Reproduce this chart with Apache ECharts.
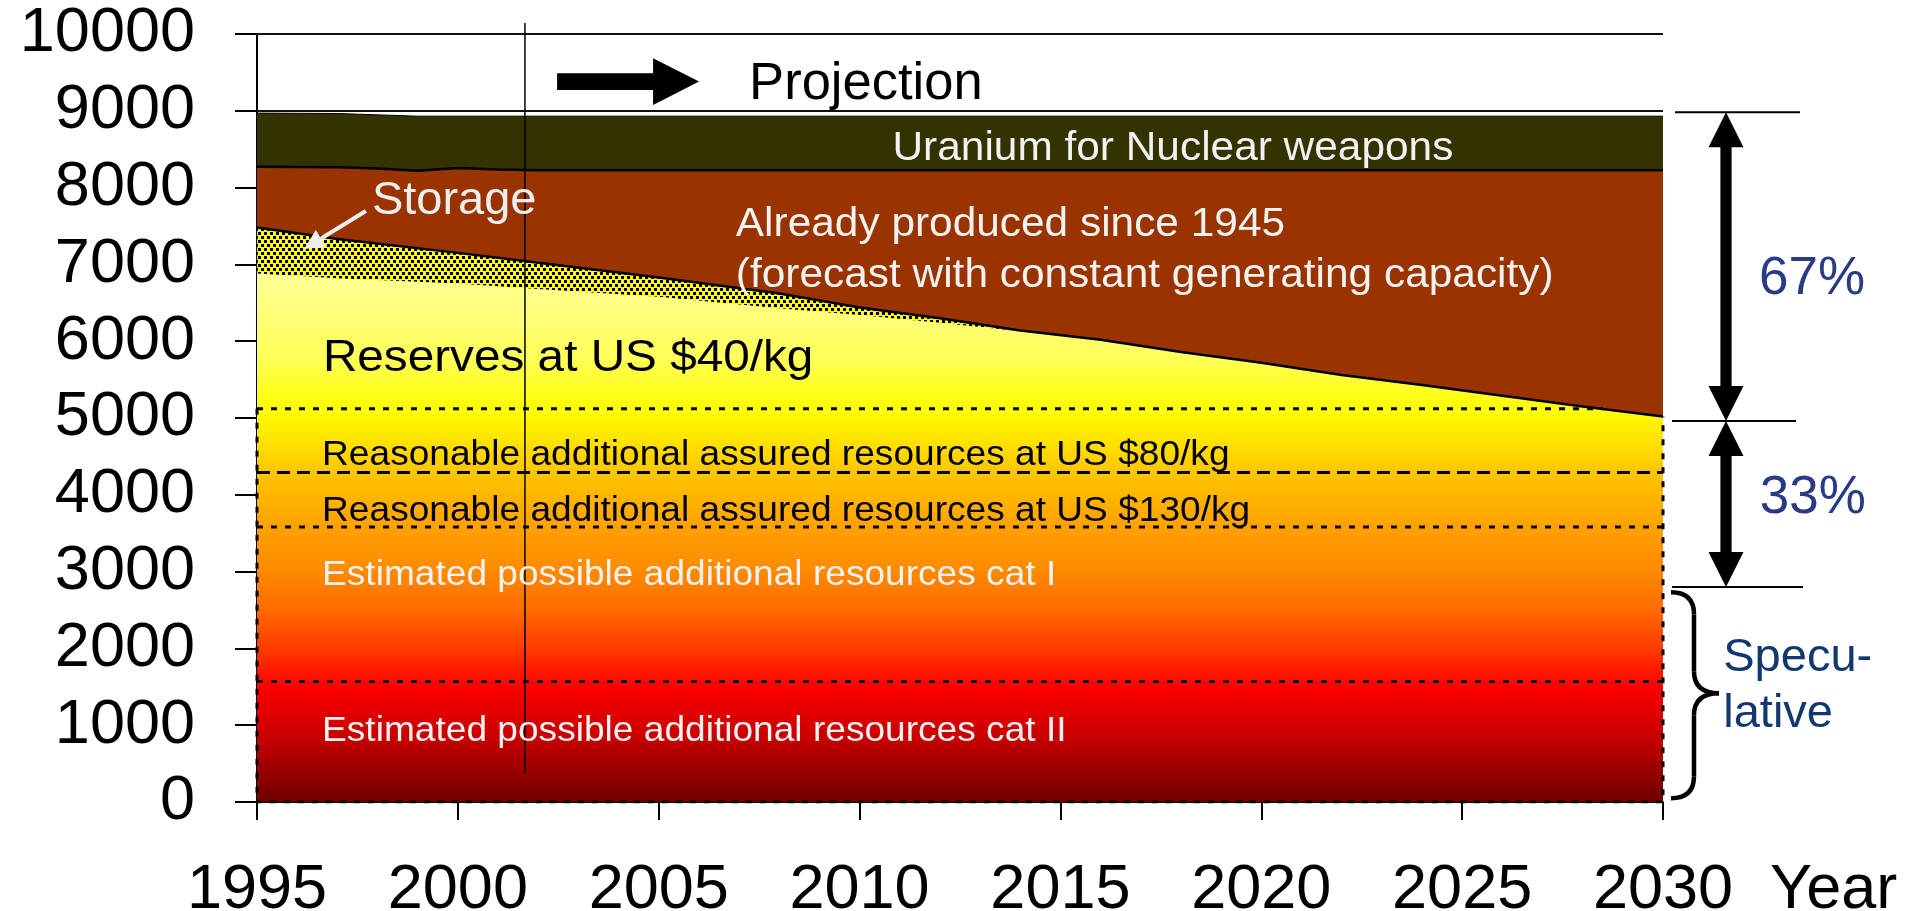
<!DOCTYPE html>
<html>
<head>
<meta charset="utf-8">
<title>Uranium resources</title>
<script src="https://cdn.jsdelivr.net/npm/echarts@6/dist/echarts.min.js"></script>
<style>
  html, body { margin: 0; padding: 0; background: #fff; }
  #chart { width: 1907px; height: 911px; }
</style>
</head>
<body>
<div id="chart"></div>
<script>
const FONT = '"Liberation Sans", Arial, Helvetica, sans-serif'

// band boundaries as [year, value]
const weaponsTop = [[1995, 8970], [1997, 8965], [1999, 8930], [2030, 8930]]
const producedTop = [[1995, 8270], [1997, 8265], [1998, 8250], [1999, 8220], [2000, 8255],
  [2001, 8235], [2002, 8225], [2030, 8225]]
const producedBottom = [[1995, 7480], [1997, 7330], [2000, 7150], [2002, 7020], [2005, 6830],
  [2008, 6620], [2010, 6440], [2012, 6300], [2014, 6140], [2016, 6020], [2018, 5860],
  [2020, 5720], [2022, 5560], [2024, 5430], [2026, 5290], [2028, 5150], [2030, 5020]]
const reservesTop = [[1995, 6880], [1997, 6820], [2000, 6750], [2002, 6680], [2005, 6580],
  [2008, 6430], [2010, 6340], [2012, 6240], [2014, 6130], [2016, 6015], [2018, 5860],
  [2020, 5720], [2022, 5560], [2024, 5430], [2026, 5290], [2028, 5150], [2030, 5020]]

// flat tops of the resource classes: $40 reserves floor, $80, $130, cat I / cat II split
const resourceLevels = [5120, 4290, 3580, 1570]
const resourceLineTypes = [[6, 8], [13, 7], [6, 8], [6, 8]]
const reservesLineEnd = 2028.5
const resourceOutline = [[1995, 5120], [1995, 0], [2030, 0], [2030, 5020]]

const projectionStart = 2001.67
const projectionSpan = [10143, 375]

// right hand brackets
const shareLevels = [8980, 4960, 2800]
const speculativeRange = [2730, 1416, 50]

// colour ramp of the resource bands (value -> colour)
const rampStops = [[0, '#6e0000'], [800, '#c40000'], [1500, '#ff0000'], [2000, '#ff3c00'],
  [2500, '#ff6a00'], [3000, '#ff8a00'], [3600, '#ffa200'], [4300, '#ffc600'],
  [5100, '#ffff00'], [5800, '#ffff5a'], [6900, '#ffff99']]

const chart = echarts.init(document.getElementById('chart'))

function dots() {
  const c = document.createElement('canvas')
  c.width = 6
  c.height = 8
  const ctx = c.getContext('2d')
  ctx.fillStyle = '#ffff00'
  ctx.fillRect(0, 0, 6, 8)
  ctx.fillStyle = '#000'
  ctx.fillRect(0, 0, 3, 3)
  ctx.fillRect(3, 4, 3, 3)
  return c
}

function area(name, data, fill, lineWidth) {
  return {
    name, type: 'line', data, symbol: 'none', silent: true,
    lineStyle: { color: '#000', width: lineWidth },
    areaStyle: { color: fill, opacity: 1 }
  }
}

function line(name, data, type, width) {
  return {
    name, type: 'line', data, symbol: 'none', silent: true,
    lineStyle: { color: '#000', width, type }
  }
}

const series = [
  area('weapons', weaponsTop, '#333300', 1),
  area('produced', producedTop, '#993300', 2.5),
  area('storage', producedBottom, { image: dots(), repeat: 'repeat' }, 0),
  area('reserves', reservesTop, '#ffff00', 0),
  line('producedEdge', producedBottom, 'solid', 2.5)
]
resourceLevels.forEach((v, i) => {
  const end = i === 0 ? reservesLineEnd : 2030
  series.push(line('level' + v, [[1995, v], [end, v]], resourceLineTypes[i], 3))
})
series.push(line('outline', resourceOutline, [6, 8], 3))
series.push(Object.assign(line('projection', [[projectionStart, projectionSpan[0]], [projectionStart, projectionSpan[1]]], 'solid', 1.5), { clip: false }))

chart.setOption({
  animation: false,
  grid: { left: 257, right: 244, top: 34, bottom: 109, outerBoundsMode: 'none', containLabel: false },
  xAxis: {
    type: 'value', min: 1995, max: 2030, interval: 5,
    name: 'Year', nameLocation: 'end', nameGap: 107,
    nameTextStyle: { fontSize: 63, fontFamily: FONT, color: '#000', verticalAlign: 'top', padding: [57, 0, 0, 0] },
    axisLine: { lineStyle: { color: '#000', width: 2 } },
    axisTick: { length: 18, lineStyle: { color: '#000', width: 2 } },
    axisLabel: { fontSize: 63, fontFamily: FONT, color: '#000', margin: 57, formatter: v => String(v) },
    splitLine: { show: false }
  },
  yAxis: {
    type: 'value', min: 0, max: 10000, interval: 1000,
    axisLine: { show: true, lineStyle: { color: '#000', width: 2 } },
    axisTick: { show: true, length: 22, lineStyle: { color: '#000', width: 2 } },
    axisLabel: { fontSize: 63, fontFamily: FONT, color: '#000', margin: 62, formatter: v => String(v) },
    splitLine: { show: true, lineStyle: { color: '#111', width: 2 } }
  },
  series
})

function px(year, value) {
  return chart.convertToPixel({ gridIndex: 0 }, [year, value])
}

// y is the centre of the capitals, so nudge the text box down a little
function text(str, year, value, size, color, align, scaleX) {
  const p = px(year, value)
  return {
    type: 'text', x: p[0], y: p[1] + size * 0.07, scaleX: scaleX || 1, z: 100, silent: true,
    style: {
      text: str, fontSize: size, fontFamily: FONT, fill: color,
      align, verticalAlign: 'middle', textAlign: align, textVerticalAlign: 'middle'
    }
  }
}

function doubleArrow(cx, yT, yB) {
  const h = 35, hw = 17.5, sw = 5.6
  return {
    type: 'polygon', z: 100, silent: true,
    shape: { points: [[cx, yT], [cx + hw, yT + h], [cx + sw, yT + h], [cx + sw, yB - h], [cx + hw, yB - h],
      [cx, yB], [cx - hw, yB - h], [cx - sw, yB - h], [cx - sw, yT + h], [cx - hw, yT + h]] },
    style: { fill: '#000' }
  }
}

function hline(x1, x2, y) {
  return { type: 'line', z: 100, silent: true, shape: { x1, y1: y, x2, y2: y }, style: { stroke: '#000', lineWidth: 2 } }
}

function curve(x1, y1, cx, cy, x2, y2) {
  return {
    type: 'bezierCurve', z: 100, silent: true,
    shape: { x1, y1, cpx1: cx, cpy1: cy, x2, y2 },
    style: { stroke: '#000', lineWidth: 4.5, fill: null }
  }
}

function decorate() {
  const y0 = px(1995, 0)[1]
  const yTop = px(1995, rampStops[rampStops.length - 1][0])[1]
  const span = rampStops[rampStops.length - 1][0]
  const ramp = new echarts.graphic.LinearGradient(0, y0, 0, yTop,
    rampStops.map(s => ({ offset: s[0] / span, color: s[1] })), true)

  const right = px(2030, 0)[0]
  const els = []

  // projection arrow
  const pa = px(2002.47, 9380)
  els.push({
    type: 'polygon', z: 100, silent: true,
    shape: { points: [[pa[0], pa[1] - 8.3], [pa[0] + 96, pa[1] - 8.3], [pa[0] + 96, pa[1] - 23.3],
      [pa[0] + 142, pa[1]], [pa[0] + 96, pa[1] + 23.3], [pa[0] + 96, pa[1] + 8.3], [pa[0], pa[1] + 8.3]] },
    style: { fill: '#000' }
  })
  els.push(text('Projection', 2007.25, 9388, 51, '#000', 'left', 1.03))

  els.push(text('Uranium for Nuclear weapons', 2017.8, 8535, 40, '#f2f2f2', 'center', 1.06))
  els.push(text('Storage', 1997.86, 7870, 47, '#eeeeee', 'left', 1))
  els.push(text('Already produced since 1945', 2006.92, 7555, 40, '#f2f2f2', 'left', 1.06))
  els.push(text('(forecast with constant generating capacity)', 2006.92, 6891, 40, '#f2f2f2', 'left', 1.06))
  els.push(text('Reserves at US $40/kg', 1996.64, 5812, 45, '#000', 'left', 1.06))
  els.push(text('Reasonable additional assured resources at US $80/kg', 1996.62, 4549, 35, '#000', 'left', 1.06))
  els.push(text('Reasonable additional assured resources at US $130/kg', 1996.62, 3813, 35, '#000', 'left', 1.06))
  els.push(text('Estimated possible additional resources cat I', 1996.62, 2979, 35, '#f2f2f2', 'left', 1.06))
  els.push(text('Estimated possible additional resources cat II', 1996.62, 947, 35, '#f2f2f2', 'left', 1.06))

  // storage pointer
  const tail = px(1997.71, 7695)
  const tip = px(1996.17, 7200)
  const dx = tip[0] - tail[0], dy = tip[1] - tail[1]
  const len = Math.sqrt(dx * dx + dy * dy)
  const ux = dx / len, uy = dy / len
  const bx = tip[0] - 20 * ux, by = tip[1] - 20 * uy
  els.push({ type: 'line', z: 100, silent: true, shape: { x1: tail[0], y1: tail[1], x2: bx, y2: by },
    style: { stroke: '#eeeeee', lineWidth: 4 } })
  els.push({ type: 'polygon', z: 100, silent: true,
    shape: { points: [[tip[0], tip[1]], [bx - 10 * uy, by + 10 * ux], [bx + 10 * uy, by - 10 * ux]] },
    style: { fill: '#eeeeee' } })

  // share brackets
  const ys = shareLevels.map(v => px(2030, v)[1])
  els.push(hline(right + 12, right + 137, ys[0]))
  els.push(hline(right + 9, right + 133, ys[1]))
  els.push(hline(right + 9, right + 140, ys[2]))
  els.push(doubleArrow(right + 63, ys[0], ys[1]))
  els.push(doubleArrow(right + 63, ys[1], ys[2]))
  els.push(text('67%', 2032.39, 6848, 53, '#2a3b85', 'left', 1))
  els.push(text('33%', 2032.41, 3996, 53, '#2a3b85', 'left', 1))

  // speculative brace
  const bT = px(2030, speculativeRange[0])[1]
  const bM = px(2030, speculativeRange[1])[1]
  const bB = px(2030, speculativeRange[2])[1]
  const x0 = right + 8, xs = right + 31, xt = right + 56, r = 22
  els.push(curve(x0, bT, xs, bT, xs, bT + r))
  els.push({ type: 'line', z: 100, silent: true, shape: { x1: xs, y1: bT + r, x2: xs, y2: bM - r }, style: { stroke: '#000', lineWidth: 4.5 } })
  els.push(curve(xs, bM - r, xs, bM, xt, bM))
  els.push(curve(xt, bM, xs, bM, xs, bM + r))
  els.push({ type: 'line', z: 100, silent: true, shape: { x1: xs, y1: bM + r, x2: xs, y2: bB - r }, style: { stroke: '#000', lineWidth: 4.5 } })
  els.push(curve(xs, bB - r, xs, bB, x0, bB))
  els.push(text('Specu-', 2031.5, 1911, 47, '#12386e', 'left', 1))
  els.push(text('lative', 2031.5, 1182, 47, '#12386e', 'left', 1))

  chart.setOption({
    series: [{}, {}, {}, { areaStyle: { color: ramp } }],
    graphic: { elements: els }
  })
}

decorate()
</script>
</body>
</html>
